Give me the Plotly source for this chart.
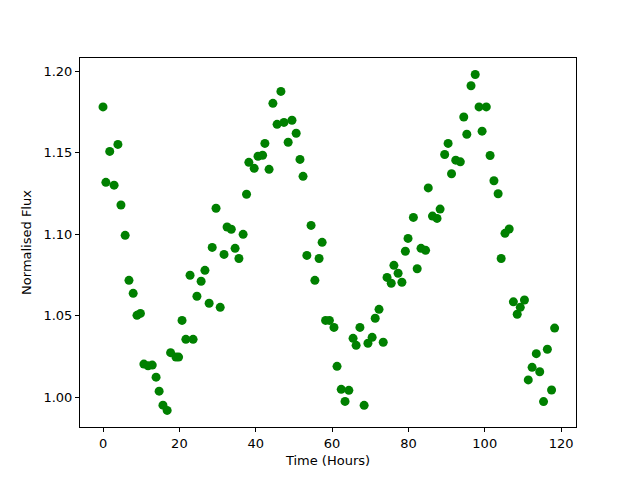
import plotly.graph_objects as go

time_hours = [0.0, 0.75, 1.76, 2.9, 3.9, 4.7, 5.8, 6.8, 7.9, 8.9, 9.8, 10.7, 11.8, 12.9, 13.9,
              14.7, 15.7, 16.8, 17.7, 19.1, 19.8, 20.7, 21.7, 22.8, 23.6, 24.6, 25.7, 26.7, 27.8,
              28.6, 29.6, 30.7, 31.7, 32.5, 33.6, 34.6, 35.6, 36.7, 37.6, 38.2, 39.6, 40.6, 41.8,
              42.4, 43.5, 44.5, 45.6, 46.6, 47.4, 48.5, 49.5, 50.6, 51.6, 52.4, 53.4, 54.5, 55.5,
              56.6, 57.4, 58.3, 59.3, 60.5, 61.3, 62.4, 63.4, 64.4, 65.5, 66.3, 67.3, 68.4, 69.4,
              70.5, 71.3, 72.3, 73.4, 74.4, 75.5, 76.2, 77.3, 78.3, 79.2, 79.9, 81.3, 82.3, 83.3,
              84.5, 85.2, 86.3, 87.5, 88.3, 89.5, 90.4, 91.3, 92.4, 93.6, 94.5, 95.3, 96.4, 97.5,
              98.5, 99.3, 100.4, 101.4, 102.4, 103.5, 104.3, 105.3, 106.4, 107.5, 108.5, 109.3,
              110.4, 111.4, 112.4, 113.5, 114.4, 115.4, 116.4, 117.5, 118.3]

norm_flux = [1.178, 1.1317, 1.1507, 1.130, 1.155, 1.1178, 1.0992, 1.0716, 1.0636, 1.0501, 1.0513,
             1.0202, 1.0192, 1.0196, 1.0122, 1.0036, 0.995, 0.9918, 1.0272, 1.0245, 1.0245, 1.047,
             1.0354, 1.0747, 1.0354, 1.0618, 1.071, 1.0777, 1.0575, 1.0918, 1.1158, 1.055, 1.0875,
             1.1043, 1.1029, 1.0912, 1.085, 1.0998, 1.1244, 1.144, 1.1403, 1.1477, 1.1483, 1.1556,
             1.1397, 1.1802, 1.1673, 1.1875, 1.1685, 1.1563, 1.1698, 1.1618, 1.1458, 1.1354,
             1.0869, 1.1053, 1.0716, 1.085, 1.0949, 1.047, 1.047, 1.0427, 1.0188, 1.0047, 0.9973,
             1.0041, 1.036, 1.0317, 1.0427, 0.9949, 1.033, 1.0366, 1.0483, 1.0538, 1.0336, 1.0734,
             1.0698, 1.0808, 1.0759, 1.0704, 1.0894, 1.0973, 1.1102, 1.0787, 1.0912, 1.0900,
             1.1283, 1.111, 1.1096, 1.1153, 1.1488, 1.1556, 1.137, 1.1453, 1.1443, 1.1718, 1.1612,
             1.191, 1.1979, 1.178, 1.1631, 1.178, 1.1482, 1.1327, 1.1247, 1.085, 1.1004, 1.1031,
             1.0584, 1.0508, 1.055, 1.0595, 1.0105, 1.0182, 1.0266, 1.0155, 0.9972, 1.0293,
             1.0043, 1.0423]

x_ticks = [0, 20, 40, 60, 80, 100, 120]
y_ticks = [1.00, 1.05, 1.10, 1.15, 1.20]

fig = go.Figure(go.Scatter(
    x=time_hours, y=norm_flux, mode="markers",
    marker=dict(color="#008000", size=9, line=dict(width=0)),
))

font = dict(family="DejaVu Sans", size=13, color="black")
axis_common = dict(showline=True, linecolor="black", linewidth=1, mirror=True,
                   ticks="outside", ticklen=4, tickcolor="black", showgrid=False,
                   zeroline=False, automargin=False,
                   tickfont=dict(family="DejaVu Sans", size=13, color="black"))

# page body has an 8px default margin, so the figure is 8px smaller and margins compensate
fig.update_layout(
    width=632, height=472,
    margin=dict(l=72, r=64, t=50, b=53),
    paper_bgcolor="white", plot_bgcolor="white",
    font=font, showlegend=False,
    xaxis=dict(range=[-6.03, 123.9], tickvals=x_ticks,
               title=dict(text="Time (Hours)", font=font, standoff=6), **axis_common),
    yaxis=dict(range=[0.9816, 1.208], tickvals=y_ticks, tickformat=".2f",
               title=dict(text="Normalised Flux", font=font, standoff=8), **axis_common),
)

fig.write_html("out.html")
